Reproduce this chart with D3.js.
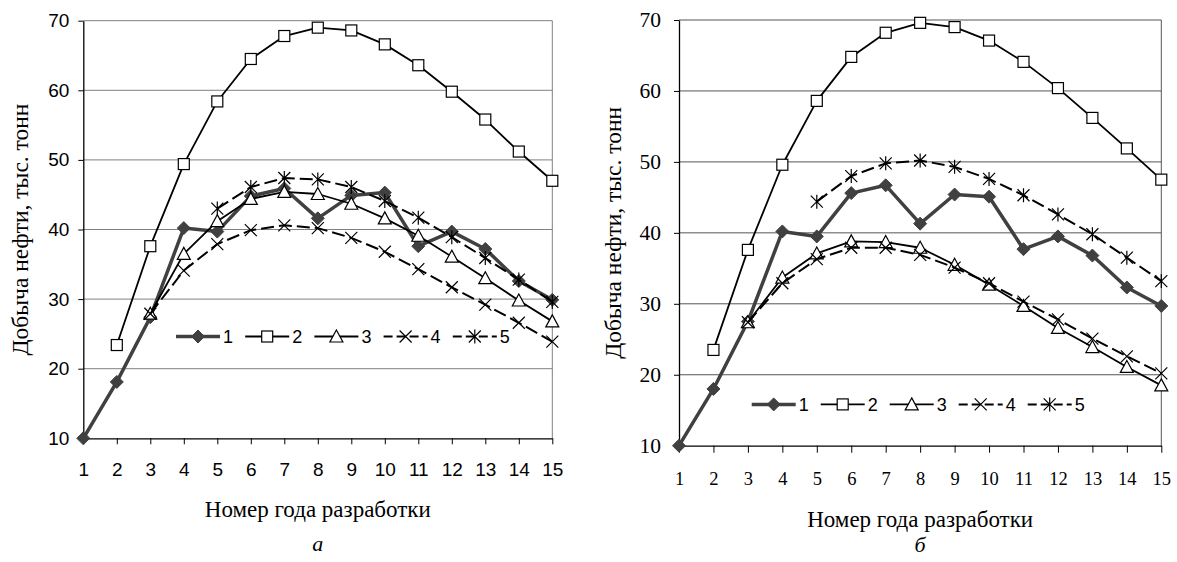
<!DOCTYPE html>
<html>
<head>
<meta charset="utf-8">
<script src="https://cdn.jsdelivr.net/npm/d3@7/dist/d3.min.js"></script>
<style>
  body { margin: 0; background: #fff; }
</style>
</head>
<body>
<div class="canvas"></div>
<script>

// data
const years = [1, 2, 3, 4, 5, 6, 7, 8, 9, 10, 11, 12, 13, 14, 15];
const yTicks = [10, 20, 30, 40, 50, 60, 70];
const seriesNames = ['1', '2', '3', '4', '5'];

// chart a
const a1 = [10, 18.1, 27.4, 40.2, 39.7, 44.8, 45.9, 41.6, 44.9, 45.3, 37.6, 39.7, 37.2, 32.6, 29.9];
const a2 = [null, 23.4, 37.6, 49.4, 58.4, 64.5, 67.8, 69.0, 68.6, 66.6, 63.6, 59.8, 55.8, 51.2, 47.0];
const a3 = [null, null, 27.9, 36.5, 41.2, 44.4, 45.4, 45.1, 43.7, 41.6, 39.1, 36.1, 33.0, 29.8, 26.8];
const a4 = [null, null, 27.9, 34.1, 37.9, 39.9, 40.6, 40.2, 38.8, 36.8, 34.3, 31.7, 29.2, 26.6, 23.9];
const a5 = [null, null, null, null, 43.0, 46.1, 47.4, 47.2, 46.1, 44.1, 41.7, 38.9, 35.9, 32.8, 29.6];

// chart b
const b1 = [10, 18.0, 27.5, 40.2, 39.5, 45.6, 46.7, 41.3, 45.4, 45.1, 37.7, 39.5, 36.8, 32.3, 29.7];
const b2 = [null, 23.5, 37.6, 49.6, 58.6, 64.8, 68.2, 69.6, 69.0, 67.1, 64.1, 60.4, 56.2, 51.9, 47.5];
const b3 = [null, null, 27.4, 33.7, 37.1, 38.8, 38.7, 37.9, 35.5, 32.7, 29.7, 26.6, 23.9, 21.1, 18.5];
const b4 = [null, null, 27.4, 32.9, 36.3, 37.9, 37.9, 36.9, 35.1, 32.9, 30.3, 27.8, 25.1, 22.6, 20.2];
const b5 = [null, null, null, null, 44.4, 48.0, 49.8, 50.2, 49.3, 47.6, 45.3, 42.6, 39.8, 36.5, 33.2];

const yTitle = 'Добыча нефти, тыс. тонн';
const xTitle = 'Номер года разработки';

const svg = d3.select('.canvas')
  .append('svg')
  .attr('width', 1177)
  .attr('height', 562);

const sans = 'Liberation Sans, Arial, sans-serif';
const serif = 'Liberation Serif, Times New Roman, serif';

// how each series looks
const styles = [
  { marker: 'diamond', stroke: '#404040', width: 3.5, dash: null },
  { marker: 'square', stroke: '#000', width: 1.8, dash: null },
  { marker: 'triangle', stroke: '#000', width: 1.8, dash: null },
  { marker: 'cross', stroke: '#000', width: 2, dash: '13,5' },
  { marker: 'star', stroke: '#000', width: 2, dash: '13,5' }
];

const drawMarker = (g, type) => {
  if (type === 'diamond') {
    g.append('path').attr('d', 'M0,-6.5L6.5,0L0,6.5L-6.5,0Z')
      .attr('fill', '#404040').attr('stroke', '#404040').attr('stroke-width', 1);
  } else if (type === 'square') {
    g.append('rect').attr('x', -5.5).attr('y', -5.5).attr('width', 11).attr('height', 11)
      .attr('fill', '#fff').attr('stroke', '#000').attr('stroke-width', 1.2);
  } else if (type === 'triangle') {
    g.append('path').attr('d', 'M0,-6.5L6.5,5.5L-6.5,5.5Z')
      .attr('fill', '#fff').attr('stroke', '#000').attr('stroke-width', 1.2);
  } else if (type === 'cross') {
    g.append('path').attr('d', 'M-6,-6L6,6M-6,6L6,-6')
      .attr('fill', 'none').attr('stroke', '#000').attr('stroke-width', 1.2);
  } else {
    g.append('path').attr('d', 'M-6,-6L6,6M-6,6L6,-6M0,-7L0,7')
      .attr('fill', 'none').attr('stroke', '#000').attr('stroke-width', 1.2);
  }
};

const drawChart = (cfg) => {
  const x = d3.scaleLinear().domain([1, 15]).range([cfg.left, cfg.right]);
  const y = d3.scaleLinear().domain([10, 70]).range([cfg.bottom, cfg.top]);
  const g = svg.append('g');

  // gridlines
  g.selectAll('.grid').data(yTicks.slice(1)).enter()
    .append('line')
      .attr('class', 'grid')
      .attr('x1', cfg.left).attr('x2', cfg.right)
      .attr('y1', d => y(d)).attr('y2', d => y(d))
      .attr('stroke', cfg.grid).attr('stroke-width', 1);

  g.append('line')
    .attr('x1', cfg.right).attr('x2', cfg.right)
    .attr('y1', cfg.top).attr('y2', cfg.bottom)
    .attr('stroke', cfg.grid);

  const yAxis = g.append('g')
    .attr('transform', `translate(${cfg.left},0)`)
    .call(d3.axisLeft(y).tickValues(yTicks).tickSize(5).tickSizeOuter(0).tickPadding(cfg.yPad));

  const xAxis = g.append('g')
    .attr('transform', `translate(0,${cfg.bottom})`)
    .call(d3.axisBottom(x).tickValues(years).tickFormat(d3.format('d'))
      .tickSize(cfg.xTick).tickSizeOuter(0).tickPadding(cfg.xPad));

  [[yAxis, cfg.yTickSize], [xAxis, cfg.xTickSize]].forEach(([ax, size]) => {
    ax.select('.domain').attr('stroke', '#000').attr('stroke-width', 1.3);
    ax.selectAll('line').attr('stroke', '#000');
    ax.selectAll('text')
      .attr('font-family', cfg.tickFont)
      .attr('font-size', size)
      .attr('fill', '#000');
  });

  // series
  const line = d3.line()
    .defined(d => d.v != null)
    .x(d => x(d.year))
    .y(d => y(d.v));

  cfg.series.forEach((values, i) => {
    const st = styles[i];
    const pts = years.map((year, j) => ({ year, v: values[j] }));
    g.append('path')
      .datum(pts)
      .attr('fill', 'none')
      .attr('stroke', st.stroke)
      .attr('stroke-width', st.width)
      .attr('stroke-dasharray', st.dash)
      .attr('stroke-linejoin', 'round')
      .attr('d', line);

    g.selectAll(`.m${i}`)
      .data(pts.filter(d => d.v != null))
      .enter()
      .append('g')
        .attr('class', `m${i}`)
        .attr('transform', d => `translate(${x(d.year)},${y(d.v)})`)
        .each(function() { drawMarker(d3.select(this), st.marker); });
  });

  // legend
  seriesNames.forEach((name, i) => {
    const st = styles[i];
    const cx = cfg.legendX + i * cfg.legendStep;
    const item = g.append('g').attr('transform', `translate(${cx},${cfg.legendY})`);
    item.append('line')
      .attr('x1', -22).attr('x2', 22)
      .attr('stroke', st.stroke)
      .attr('stroke-width', st.width)
      .attr('stroke-dasharray', st.dash ? '9,4' : null);
    drawMarker(item, st.marker);
    item.append('text')
      .attr('x', 25)
      .attr('dy', '0.36em')
      .attr('font-family', sans)
      .attr('font-size', 18)
      .text(name);
  });

  // titles
  g.append('text')
    .attr('transform', `translate(${cfg.yTitleX},${(cfg.top + cfg.bottom) / 2}) rotate(-90)`)
    .attr('text-anchor', 'middle')
    .attr('dy', '0.35em')
    .attr('font-family', serif)
    .attr('font-size', 23.5)
    .text(yTitle);

  g.append('text')
    .attr('x', (cfg.left + cfg.right) / 2)
    .attr('y', cfg.xTitleY)
    .attr('text-anchor', 'middle')
    .attr('dy', '0.35em')
    .attr('font-family', serif)
    .attr('font-size', 23)
    .text(xTitle);

  g.append('text')
    .attr('x', (cfg.left + cfg.right) / 2)
    .attr('y', cfg.labelY)
    .attr('text-anchor', 'middle')
    .attr('font-family', serif)
    .attr('font-style', 'italic')
    .attr('font-size', 22)
    .text(cfg.label);
};

drawChart({
  left: 83.3, right: 552.3, top: 20.7, bottom: 438.3,
  grid: '#808080', tickFont: sans, yTickSize: 19, xTickSize: 19, yPad: 9, xTick: 6, xPad: 18,
  series: [a1, a2, a3, a4, a5],
  legendX: 198, legendStep: 69.2, legendY: 336.5,
  yTitleX: 20, xTitleY: 509, labelY: 551, label: 'а'
});

drawChart({
  left: 679, right: 1161.3, top: 20, bottom: 445.7,
  grid: '#555', tickFont: serif, yTickSize: 21.5, xTickSize: 18.5, yPad: 13, xTick: 7, xPad: 19,
  series: [b1, b2, b3, b4, b5],
  legendX: 773.7, legendStep: 69, legendY: 404.4,
  yTitleX: 613, xTitleY: 519, labelY: 552, label: 'б'
});

</script>
</body>
</html>
